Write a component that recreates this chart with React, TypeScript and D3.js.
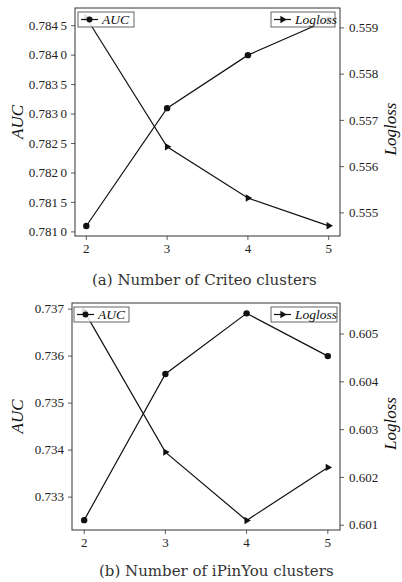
import React from 'react';
import * as d3 from 'd3';

const clusters = [2, 3, 4, 5];

const criteoAuc = [0.7811, 0.7831, 0.784, 0.7846];
const criteoLogloss = [0.55922, 0.55643, 0.55532, 0.55472];
const criteoAucTicks = [0.781, 0.7815, 0.782, 0.7825, 0.783, 0.7835, 0.784, 0.7845];
const criteoLoglossTicks = [0.555, 0.556, 0.557, 0.558, 0.559];

const ipinyouAuc = [0.73251, 0.73562, 0.73691, 0.736];
const ipinyouLogloss = [0.60548, 0.60253, 0.6011, 0.60221];
const ipinyouAucTicks = [0.733, 0.734, 0.735, 0.736, 0.737];
const ipinyouLoglossTicks = [0.601, 0.602, 0.603, 0.604, 0.605];

// ascii parens on purpose: the full-width ones pull the whole run into the CJK font
const captions = ['(a) Number of Criteo clusters', '(b) Number of iPinYou clusters'];

const SERIF = 'Liberation Serif';
const CAPTION_FONT = 'DejaVu Serif';

// split the 4th decimal off like the journal does: 0.784 5
const fmt4 = (d) => {
  const s = d.toFixed(4);
  return s.slice(0, 5) + '\u2009' + s.slice(5);
};
const fmt3 = (d) => d.toFixed(3);

const panels = [
  {
    box: { left: 75, right: 340, top: 8, bottom: 236 },
    xDomain: [1.86, 5.14],
    auc: criteoAuc,
    logloss: criteoLogloss,
    aucDomain: [0.78093, 0.7848],
    lossDomain: [0.5545, 0.55943],
    aucTicks: criteoAucTicks,
    lossTicks: criteoLoglossTicks,
    aucFmt: fmt4,
    caption: captions[0],
    captionY: 285,
    captionX: 92,
    aucLegend: { x: 78, y: 12, w: 56 },
    lossLegend: { x: 271, y: 12, w: 64 },
  },
  {
    box: { left: 72, right: 340, top: 303, bottom: 530 },
    xDomain: [1.85, 5.15],
    auc: ipinyouAuc,
    logloss: ipinyouLogloss,
    aucDomain: [0.7323, 0.73713],
    lossDomain: [0.6009, 0.60565],
    aucTicks: ipinyouAucTicks,
    lossTicks: ipinyouLoglossTicks,
    aucFmt: fmt3,
    caption: captions[1],
    captionY: 576,
    captionX: 99,
    aucLegend: { x: 74, y: 307, w: 55 },
    lossLegend: { x: 271, y: 307, w: 66 },
  },
];

const tri = d3.symbol(d3.symbolTriangle, 24)();
const line = d3.line();

const Legend = ({ lg, label, marker }) => {
  const cy = lg.y + 7.5;
  return (
    <g>
      <rect x={lg.x} y={lg.y} width={lg.w} height={15} fill="white" fillOpacity={0.85} stroke="#555" strokeWidth={0.9} />
      <line x1={lg.x + 3} x2={lg.x + 20} y1={cy} y2={cy} stroke="#111" strokeWidth={1.2} />
      {marker === 'circle' ? (
        <circle cx={lg.x + 11.5} cy={cy} r={3} fill="#111" />
      ) : (
        <path d={tri} transform={`translate(${lg.x + 11.5},${cy}) rotate(90)`} fill="#111" />
      )}
      <text x={lg.x + 24} y={cy + 4.5} fontFamily={SERIF} fontStyle="italic" fontSize={13.5} fill="#111">
        {label}
      </text>
    </g>
  );
};

const Panel = ({ p }) => {
  const { left, right, top, bottom } = p.box;
  const x = d3.scaleLinear().domain(p.xDomain).range([left, right]);
  const yA = d3.scaleLinear().domain(p.aucDomain).range([bottom, top]);
  const yL = d3.scaleLinear().domain(p.lossDomain).range([bottom, top]);

  const aucPts = clusters.map((c, i) => [x(c), yA(p.auc[i])]);
  const lossPts = clusters.map((c, i) => [x(c), yL(p.logloss[i])]);
  const midY = (top + bottom) / 2;

  return (
    <g>
      {/* x axis */}
      {clusters.map((c) => (
        <g key={c} transform={`translate(${x(c)},${bottom})`}>
          <line y2={4} stroke="#333" strokeWidth={0.8} />
          <text y={17} textAnchor="middle" fontFamily={SERIF} fontSize={13} fill="#222">{c}</text>
        </g>
      ))}
      {/* left axis */}
      {p.aucTicks.map((t) => (
        <g key={t} transform={`translate(${left},${yA(t)})`}>
          <line x2={-4} stroke="#333" strokeWidth={0.8} />
          <text x={-8} dy="0.32em" textAnchor="end" fontFamily={SERIF} fontSize={13} fill="#222">{p.aucFmt(t)}</text>
        </g>
      ))}
      {/* right axis */}
      {p.lossTicks.map((t) => (
        <g key={t} transform={`translate(${right},${yL(t)})`}>
          <line x2={4} stroke="#333" strokeWidth={0.8} />
          <text x={9} dy="0.32em" textAnchor="start" fontFamily={SERIF} fontSize={13} fill="#222">{fmt3(t)}</text>
        </g>
      ))}

      <rect x={left} y={top} width={right - left} height={bottom - top} fill="none" stroke="#333" strokeWidth={1} />

      <path d={line(aucPts)} fill="none" stroke="#111" strokeWidth={1.2} />
      <path d={line(lossPts)} fill="none" stroke="#111" strokeWidth={1.2} />
      {aucPts.map((d, i) => (
        <circle key={i} cx={d[0]} cy={d[1]} r={3.2} fill="#111" />
      ))}
      {lossPts.map((d, i) => (
        <path key={i} d={tri} transform={`translate(${d[0]},${d[1]}) rotate(90)`} fill="#111" />
      ))}

      <Legend lg={p.aucLegend} label="AUC" marker="circle" />
      <Legend lg={p.lossLegend} label="Logloss" marker="triangle" />

      <text transform={`translate(23,${midY}) rotate(-90)`} textAnchor="middle" fontFamily={SERIF} fontStyle="italic" fontSize={17} fill="#111">
        AUC
      </text>
      <text transform={`translate(396,${midY + 7}) rotate(-90)`} textAnchor="middle" fontFamily={SERIF} fontStyle="italic" fontSize={17} fill="#111">
        Logloss
      </text>

      <text x={p.captionX} y={p.captionY} fontFamily={CAPTION_FONT} fontSize={15} fill="#333">
        {p.caption}
      </text>
    </g>
  );
};

const App = () => (
  <svg width={402} height={582} style={{ position: 'absolute', left: 0, top: 0, background: '#fff' }}>
    {panels.map((p, i) => (
      <Panel key={i} p={p} />
    ))}
  </svg>
);

export default App;
